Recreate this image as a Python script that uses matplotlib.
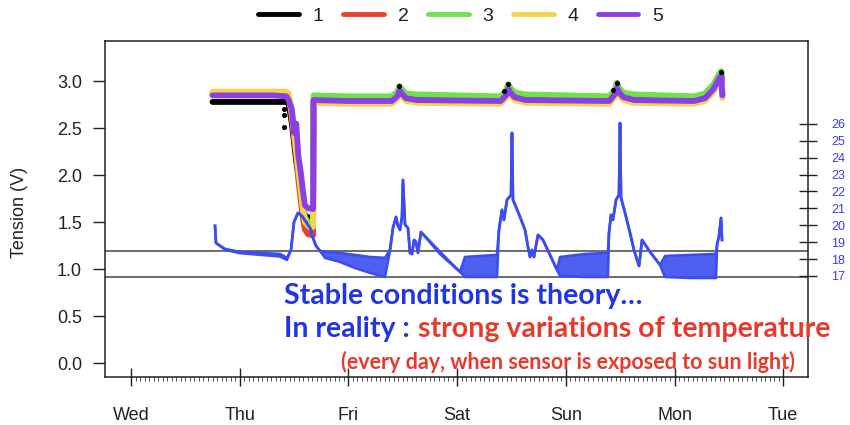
import numpy as np
import matplotlib

matplotlib.use("Agg")
import matplotlib.pyplot as plt
from matplotlib.lines import Line2D

# ---- data ------------------------------------------------------------------
day_names = ["Wed", "Thu", "Fri", "Sat", "Sun", "Mon", "Tue"]
series_names = ["1", "2", "3", "4", "5"]
series_colors = ["#000000", "#e8432c", "#6fe24b", "#f3d54c", "#8c3fe6"]

# time in days since Wednesday 00:00
volt_day = [0.75, 1.00, 1.30, 1.43,
            1.45, 1.48, 1.50, 1.52, 1.54, 1.56, 1.58, 1.60, 1.63, 1.675,
            1.68, 2.00,
            2.40, 2.45, 2.47, 2.49, 2.53, 2.63,
            3.40, 3.45, 3.47, 3.49, 3.53, 3.63,
            4.40, 4.45, 4.47, 4.49, 4.53, 4.63,
            5.18, 5.28, 5.36, 5.41, 5.43, 5.435, 5.44]

volt_1 = [2.78, 2.78, 2.78, 2.78,
          2.76, 2.55, 2.35, 2.15, 2.00, 1.85, 1.70, 1.57, 1.55, 1.55,
          2.80, 2.79, 2.79, 2.85, 2.93, 2.89, 2.82, 2.80, 2.79, 2.86, 2.96,
          2.91, 2.83, 2.80, 2.79, 2.87, 2.98, 2.91, 2.83, 2.80, 2.79, 2.82,
          2.93, 3.05, 3.10, 2.95, 2.86]
volt_2 = [2.86, 2.86, 2.86, 2.86,
          2.84, 2.60, 2.40, 2.20, 1.95, 1.75, 1.55, 1.42, 1.37, 1.36,
          2.79, 2.78, 2.78, 2.83, 2.89, 2.86, 2.81, 2.79, 2.78, 2.84, 2.91,
          2.87, 2.82, 2.79, 2.78, 2.85, 2.92, 2.87, 2.82, 2.79, 2.78, 2.81,
          2.91, 3.02, 3.05, 2.92, 2.84]
volt_3 = [2.87, 2.87, 2.87, 2.87,
          2.85, 2.70, 2.50, 2.30, 2.10, 1.90, 1.70, 1.55, 1.50, 1.50,
          2.85, 2.84, 2.84, 2.89, 2.95, 2.92, 2.87, 2.86, 2.84, 2.90, 2.97,
          2.93, 2.88, 2.86, 2.84, 2.91, 2.98, 2.93, 2.88, 2.86, 2.84, 2.87,
          2.97, 3.08, 3.11, 2.98, 2.90]
volt_4 = [2.89, 2.89, 2.89, 2.89,
          2.87, 2.65, 2.45, 2.25, 2.05, 1.85, 1.65, 1.50, 1.46, 1.45,
          2.77, 2.76, 2.76, 2.81, 2.87, 2.84, 2.79, 2.77, 2.76, 2.82, 2.89,
          2.85, 2.80, 2.77, 2.76, 2.83, 2.90, 2.85, 2.80, 2.77, 2.76, 2.79,
          2.89, 3.00, 3.03, 2.90, 2.82]
volt_5 = [2.85, 2.85, 2.85, 2.84,
          2.80, 2.70, 2.45, 2.55, 2.20, 2.05, 1.85, 1.68, 1.65, 1.64,
          2.80, 2.79, 2.79, 2.84, 2.90, 2.87, 2.82, 2.80, 2.79, 2.85, 2.92,
          2.88, 2.83, 2.80, 2.79, 2.86, 2.93, 2.88, 2.83, 2.80, 2.79, 2.82,
          2.92, 3.03, 3.06, 2.93, 2.85]

# stray black points (series 1)
dots_day = [1.41, 1.41, 1.41, 2.47, 3.43, 3.47, 4.43, 4.47, 5.43]
dots_volt = [2.71, 2.64, 2.51, 2.95, 2.90, 2.97, 2.91, 2.98, 3.10]

# temperature (right axis): upper and lower envelope of the noisy trace
temp_day = [0.773, 0.782, 0.865, 1.003, 1.187, 1.371, 1.435, 1.472, 1.500,
            1.536, 1.573, 1.610, 1.647, 1.674, 1.702, 1.739,
            1.785, 1.923, 2.061, 2.199, 2.337,
            2.383, 2.410, 2.438, 2.456, 2.475, 2.493, 2.502, 2.521, 2.548,
            2.567, 2.585, 2.604, 2.622, 2.640, 2.668, 2.843, 3.027,
            3.073, 3.211, 3.367,
            3.385, 3.413, 3.431, 3.459, 3.496, 3.505, 3.514, 3.542, 3.579,
            3.625, 3.652, 3.671, 3.689, 3.707, 3.744, 3.790, 3.919,
            3.947, 4.177, 4.388,
            4.397, 4.416, 4.434, 4.462, 4.489, 4.499, 4.508, 4.545, 4.591,
            4.627, 4.655, 4.674, 4.701, 4.775, 4.867,
            4.913, 5.143, 5.382,
            5.391, 5.409, 5.428, 5.437]
temp_hi = [19.96, 18.95, 18.60, 18.42, 18.36, 18.30, 18.07, 18.54, 20.20,
           20.73, 20.55, 20.20, 19.84, 19.25, 18.78, 18.48,
           18.42, 18.36, 18.24, 18.12, 18.07,
           18.54, 19.84, 20.49, 19.96, 19.72, 20.49, 22.68, 20.02, 19.84,
           18.36, 18.30, 19.13, 19.01, 18.36, 19.60, 18.42, 17.24,
           18.12, 18.18, 18.24,
           19.72, 20.91, 20.31, 21.50, 21.79, 25.46, 21.50, 21.08, 20.49,
           19.72, 18.72, 18.12, 18.54, 18.12, 19.43, 19.13, 17.36,
           18.12, 18.30, 18.36,
           19.54, 20.61, 20.31, 21.50, 21.79, 26.05, 21.62, 20.73, 19.54,
           18.54, 17.95, 17.59, 19.13, 18.42, 17.65,
           18.18, 18.24, 18.30,
           18.83, 19.37, 20.43, 19.13]
temp_lo = [19.96, 18.95, 18.55, 18.35, 18.25, 18.15, 17.95, 18.54, 20.20,
           20.73, 20.55, 20.20, 19.84, 19.25, 18.78, 18.48,
           18.07, 17.83, 17.47, 17.18, 16.94,
           18.54, 19.84, 20.49, 19.96, 19.72, 20.49, 22.68, 20.02, 19.84,
           18.36, 18.30, 19.13, 19.01, 18.36, 19.60, 18.30, 17.24,
           16.94, 16.94, 16.94,
           19.72, 20.91, 20.31, 21.50, 21.79, 25.46, 21.50, 21.08, 20.49,
           19.72, 18.72, 18.12, 18.54, 18.12, 19.43, 19.13, 17.36,
           17.00, 16.94, 16.94,
           19.54, 20.61, 20.31, 21.50, 21.79, 26.05, 21.62, 20.73, 19.54,
           18.54, 17.95, 17.59, 19.13, 18.42, 17.65,
           16.94, 16.88, 16.88,
           18.83, 19.37, 20.43, 19.13]

ref_levels = [1.193, 0.916]
volt_ticks = [0.0, 0.5, 1.0, 1.5, 2.0, 2.5, 3.0]
temp_ticks = [17, 18, 19, 20, 21, 22, 23, 24, 25, 26]

# ---- figure ----------------------------------------------------------------
plt.rcParams.update({"font.family": "Liberation Sans", "text.color": "#222222"})
W, H = 850, 425
fig = plt.figure(figsize=(W / 100, H / 100), dpi=100)
ax = fig.add_axes([105 / W, 48 / H, 703 / W, 336 / H])

volts = [volt_1, volt_2, volt_3, volt_4, volt_5]
for vals, col in zip(volts, series_colors):
    ax.plot(volt_day, vals, color=col, lw=4.2,
            solid_joinstyle="round", solid_capstyle="round", zorder=3)
ax.scatter(dots_day, dots_volt, s=7, color="black", zorder=4)

for lvl in ref_levels:
    ax.axhline(lvl, color="#444444", lw=1.1, zorder=2)

ax.set_xlim(-0.239, 6.228)
ax.set_ylim(-0.149, 3.429)
ax.set_yticks(volt_ticks)
ax.set_yticklabels([f"{v:.1f}" for v in volt_ticks])
ax.set_xticks(range(len(day_names)))
ax.set_xticklabels(day_names)
ax.set_xticks(np.arange(0, 6 + 1e-9, 1 / 24), minor=True)
ax.tick_params(axis="y", direction="out", length=8.5, width=1, pad=8,
               labelsize=13, colors="#222222")
ax.tick_params(axis="x", which="major", direction="inout", length=13,
               width=1, pad=15, labelsize=13, colors="#222222")
ax.tick_params(axis="x", which="minor", direction="out", length=3,
               width=0.6, colors="#333333")
for sp in ax.spines.values():
    sp.set_linewidth(1.1)
    sp.set_color("#222222")

# temperature on the right-hand scale
ax2 = ax.twinx()
blue = "#3c4df0"
ax2.fill_between(temp_day, temp_lo, temp_hi, color=blue, lw=0, alpha=0.9)
ax2.plot(temp_day, temp_hi, color=blue, lw=1.9, solid_joinstyle="round")
ax2.plot(temp_day, temp_lo, color=blue, lw=1.9, solid_joinstyle="round")
ax2.set_ylim(11.02, 30.9)
ax2.set_yticks(temp_ticks)
ax2.tick_params(axis="y", direction="inout", length=13, width=1, pad=10,
                labelsize=9, labelcolor="#3c3ce0", colors="#222222")
ax2.tick_params(axis="y", labelcolor="#3c3ce0")
for sp in ax2.spines.values():
    sp.set_visible(False)

fig.text(20 / W, 1 - 212 / H, "Tension (V)", rotation=90, ha="center",
         va="center", fontsize=13)

handles = [Line2D([], [], color=c, lw=3.5, solid_capstyle="round")
           for c in series_colors]
fig.legend(handles, series_names, loc="center", bbox_to_anchor=(0.542, 0.962),
           ncol=5, frameon=False, fontsize=14, handlelength=2.1,
           handletextpad=0.7, columnspacing=1.0)

# slide overlay text
tblue = "#1f35e6"
tred = "#e63b2c"
font = dict(family="Lato", fontweight="bold")
fig.text(284 / W, 1 - 296 / H, "Stable conditions is theory…", color=tblue,
         fontsize=20.5, ha="left", va="center", **font)
t1 = fig.text(284 / W, 1 - 329 / H, "In reality :", color=tblue,
              fontsize=20.5, ha="left", va="center", **font)
ax.annotate("strong variations of temperature", xy=(1, 0), xycoords=t1,
            xytext=(6, 0), textcoords="offset points", ha="left", va="bottom",
            color=tred, fontsize=20.5, annotation_clip=False, **font)
fig.text(568 / W, 1 - 362 / H,
         "(every day, when sensor is exposed to sun light)", color=tred,
         fontsize=15.5, ha="center", va="center", **font)

fig.savefig("out.png", dpi=100)
